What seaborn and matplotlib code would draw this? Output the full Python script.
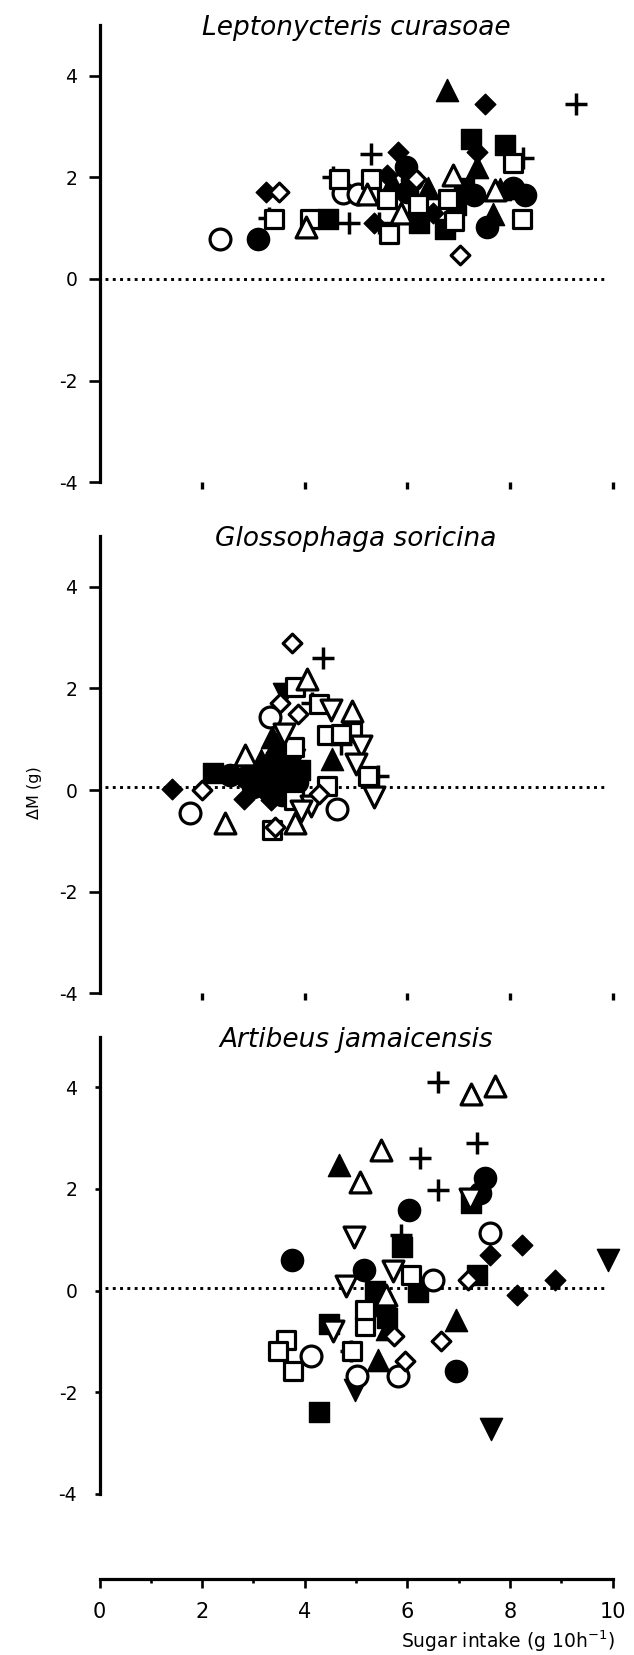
import pandas as pd
import seaborn as sns
import matplotlib.pyplot as plt
from matplotlib.ticker import MultipleLocator

# ---- data: (sugar intake, delta M) ----
# Leptonycteris curasoae
lc_circle_f = [(3.08, 0.78), (5.98, 2.2), (6.1, 1.95), (6.0, 1.72), (7.3, 1.65), (7.55, 1.02), (8.07, 1.8), (8.29, 1.65)]
lc_circle_o = [(2.35, 0.78), (4.74, 1.7), (5.03, 1.68)]
lc_square_f = [(4.45, 1.18), (6.22, 1.1), (6.73, 0.98), (7.25, 2.75), (7.9, 2.64), (6.95, 1.45), (7.1, 1.8)]
lc_square_o = [(3.4, 1.18), (4.1, 1.18), (4.67, 1.97), (5.29, 1.97), (5.6, 1.57), (5.64, 0.89), (6.2, 1.48),
               (6.8, 1.57), (8.07, 2.28), (8.23, 1.18), (6.92, 1.15)]
lc_tri_f = [(6.77, 3.72), (7.35, 2.2), (7.67, 1.28), (7.8, 1.78), (6.4, 1.8), (5.7, 1.9)]
lc_tri_o = [(4.02, 1.03), (5.22, 1.68), (5.88, 1.3), (6.9, 2.04), (7.71, 1.76)]
lc_dia_f = [(3.24, 1.71), (5.82, 2.5), (5.35, 1.1), (7.51, 3.45), (5.6, 2.05), (7.35, 2.5), (6.5, 1.3)]
lc_dia_o = [(3.5, 1.71), (6.17, 1.97), (7.02, 0.47)]
lc_plus = [(3.3, 1.2), (4.55, 2.0), (5.29, 2.47), (4.87, 1.1), (8.25, 2.38), (9.28, 3.45), (5.45, 1.1)]

# Glossophaga soricina
gs_circle_f = [(2.55, 0.3), (2.85, 0.25), (3.1, 0.2), (3.3, 0.2), (3.7, 0.0), (3.55, -0.1), (3.5, 0.6),
               (3.85, 0.15), (3.0, 0.05)]
gs_circle_o = [(1.76, -0.46), (3.33, 1.43), (4.62, -0.38)]
gs_square_f = [(2.22, 0.33), (3.6, 0.3), (3.9, 0.4), (3.45, 0.55), (3.25, 0.35)]
gs_square_o = [(3.82, 2.03), (4.28, 1.7), (4.44, 1.08), (4.93, 1.14), (5.23, 0.28), (3.8, 0.85), (4.44, 0.07),
               (3.8, -0.2), (3.37, -0.78), (4.7, 1.1)]
gs_tri_f = [(3.37, 1.05), (4.54, 0.62), (3.5, 0.5), (3.15, 0.6), (3.6, 0.8), (3.7, 0.25), (3.45, 0.9), (3.2, 0.3)]
gs_tri_o = [(2.45, -0.64), (2.84, 0.68), (4.05, 2.18), (4.93, 1.55), (3.82, -0.64)]
gs_trid_f = [(3.6, 1.88), (3.4, 0.1), (3.8, 0.6), (3.65, 0.4)]
gs_trid_o = [(4.52, 1.57), (5.1, 0.87), (5.0, 0.52), (5.36, -0.13), (4.12, -0.32), (3.92, -0.42), (3.6, 1.1)]
gs_dia_f = [(1.41, 0.01), (2.81, -0.18), (3.25, -0.05), (3.3, 0.4), (3.6, 0.05), (3.35, -0.2)]
gs_dia_o = [(1.99, 0.0), (3.76, 2.9), (3.52, 1.71), (3.86, 1.5), (4.28, -0.08), (3.43, -0.72)]
gs_plus = [(4.36, 2.6), (4.15, 1.72), (5.42, 0.28), (4.7, 0.9)]

# Artibeus jamaicensis
aj_circle_f = [(3.75, 0.6), (5.15, 0.4), (6.04, 1.58), (7.51, 2.21), (7.41, 1.91), (6.94, -1.58), (5.55, -0.35)]
aj_circle_o = [(4.13, -1.28), (5.02, -1.68), (5.82, -1.68), (6.5, 0.21), (7.61, 1.13)]
aj_square_f = [(4.28, -2.4), (4.47, -0.66), (5.89, 0.86), (6.2, -0.02), (7.35, 0.31), (7.25, 1.72), (5.38, 0.0),
               (5.6, -0.55)]
aj_square_o = [(3.64, -0.97), (3.48, -1.2), (3.77, -1.58), (4.92, -1.2), (5.18, -0.7), (5.18, -0.38), (6.08, 0.31)]
aj_tri_f = [(4.66, 2.47), (5.43, -1.37), (6.94, -0.58), (5.6, -0.75)]
aj_tri_o = [(5.49, 2.77), (5.08, 2.14), (7.25, 3.86), (7.71, 4.02), (5.59, -0.08)]
aj_trid_f = [(4.99, -1.95), (7.63, -2.72), (9.92, 0.6)]
aj_trid_o = [(4.97, 1.06), (4.81, 0.08), (5.72, 0.38), (7.22, 1.8), (4.55, -0.8)]
aj_dia_f = [(7.61, 0.7), (8.23, 0.9), (8.88, 0.21), (8.14, -0.09)]
aj_dia_o = [(7.19, 0.21), (6.65, -1.0), (5.95, -1.38), (5.74, -0.9)]
aj_plus = [(6.6, 4.1), (6.24, 2.6), (7.35, 2.9), (6.6, 1.98), (5.87, 1.1), (4.9, -1.2), (5.55, -0.2)]

species = ["Leptonycteris curasoae", "Glossophaga soricina", "Artibeus jamaicensis"]
ref_level = [0.0, 0.05, 0.05]  # dotted reference line per panel

x_ticks = [0, 2, 4, 6, 8, 10]
y_ticks = [-4, -2, 0, 2, 4]


def to_frame(**groups):
    rows = []
    for kind, pts in groups.items():
        for x, y in pts:
            rows.append((x, y, kind))
    return pd.DataFrame(rows, columns=["x", "y", "kind"])


panels = [
    to_frame(plus=lc_plus, circle_f=lc_circle_f, square_f=lc_square_f, tri_f=lc_tri_f, dia_f=lc_dia_f,
             circle_o=lc_circle_o, square_o=lc_square_o, tri_o=lc_tri_o, dia_o=lc_dia_o),
    to_frame(plus=gs_plus, circle_f=gs_circle_f, square_f=gs_square_f, tri_f=gs_tri_f, trid_f=gs_trid_f,
             dia_f=gs_dia_f, circle_o=gs_circle_o, square_o=gs_square_o, tri_o=gs_tri_o, trid_o=gs_trid_o,
             dia_o=gs_dia_o),
    to_frame(plus=aj_plus, circle_f=aj_circle_f, square_f=aj_square_f, tri_f=aj_tri_f, trid_f=aj_trid_f,
             dia_f=aj_dia_f, circle_o=aj_circle_o, square_o=aj_square_o, tri_o=aj_tri_o, trid_o=aj_trid_o,
             dia_o=aj_dia_o),
]

filled = dict(color="black", edgecolor="black", linewidth=1)
hollow = dict(color="white", edgecolor="black", linewidth=2.3)
STYLE = {
    "plus": dict(marker="+", s=15.5 ** 2, color="black", linewidth=2.5),
    "circle_f": dict(marker="o", s=16 ** 2, **filled),
    "square_f": dict(marker="s", s=14 ** 2, **filled),
    "tri_f": dict(marker="^", s=16 ** 2, **filled),
    "trid_f": dict(marker="v", s=16 ** 2, **filled),
    "dia_f": dict(marker="D", s=10.5 ** 2, **filled),
    "circle_o": dict(marker="o", s=15 ** 2, **hollow),
    "square_o": dict(marker="s", s=13 ** 2, **hollow),
    "tri_o": dict(marker="^", s=15 ** 2, **hollow),
    "trid_o": dict(marker="v", s=15 ** 2, **hollow),
    "dia_o": dict(marker="D", s=9.5 ** 2, **hollow),
}

sns.set_style("ticks")
plt.rcParams["font.family"] = ["DejaVu Sans"]
plt.rcParams["axes.unicode_minus"] = False
for key in ["text.color", "axes.labelcolor", "xtick.color", "ytick.color", "axes.edgecolor"]:
    plt.rcParams[key] = "black"

W, H = 634, 1655
fig = plt.figure(figsize=(W / 100, H / 100), dpi=100)

left, width = 99.5 / W, 513 / W
bottoms_px = [482.2, 993.2, 1493.7]   # pixel row of y = -4 in each panel
panel_h = 457.2 / H

for i, df in enumerate(panels):
    ax = fig.add_axes([left, 1 - bottoms_px[i] / H, width, panel_h])
    ax.axhline(ref_level[i], xmin=0.01, xmax=0.99, color="black", lw=2.1,
               linestyle=(0, (1.0, 1.5)), dash_capstyle="butt", zorder=1)
    for kind in STYLE:
        sub = df[df["kind"] == kind]
        if len(sub):
            sns.scatterplot(data=sub, x="x", y="y", ax=ax, legend=False, zorder=3,
                            clip_on=False, **STYLE[kind])
    ax.set_xlim(0, 10)
    ax.set_ylim(-4, 5)
    ax.set_xlabel("")
    ax.set_ylabel("")
    for side in ["top", "right", "bottom"]:
        ax.spines[side].set_visible(False)
    ax.spines["left"].set_linewidth(2.3)
    ax.set_yticks(y_ticks)
    ax.set_yticklabels([str(v) for v in y_ticks])
    ylen, ypad = (8, 8) if i < 2 else (3.6, 12.5)
    ax.tick_params(axis="y", length=ylen, width=1.9, pad=ypad, labelsize=13.5)
    if i < 2:
        ax.set_xticks(x_ticks[1:])
        ax.set_xticklabels([])
        ax.tick_params(axis="x", length=5, width=2.4)
    else:
        ax.set_xticks([])
    ax.text(5, 4.8, species[i], ha="center", va="baseline", style="italic", fontsize=19)
    ax.patch.set_alpha(0)

# shared x axis at the bottom
axb = fig.add_axes([left, 1 - 1579.3 / H, width, 0.0001])
axb.set_xlim(0, 10)
axb.set_yticks([])
for side in ["top", "right", "left"]:
    axb.spines[side].set_visible(False)
axb.spines["bottom"].set_linewidth(2.3)
axb.set_xticks(x_ticks)
axb.set_xticklabels([str(v) for v in x_ticks])
axb.xaxis.set_minor_locator(MultipleLocator(1))
axb.tick_params(axis="x", which="major", length=6.5, width=1.9, pad=10, labelsize=15)
axb.tick_params(axis="x", which="minor", length=3.2, width=1.9)
axb.patch.set_alpha(0)

fig.text(508 / W, 1 - 1648 / H, r"Sugar intake (g 10h$^{-1}$)", ha="center", va="baseline", fontsize=13.5)
fig.text(35 / W, 1 - 793 / H, "\u0394M (g)", rotation=90, ha="center", va="center", fontsize=11.5)

fig.savefig("out.png", dpi=100, facecolor="white")
